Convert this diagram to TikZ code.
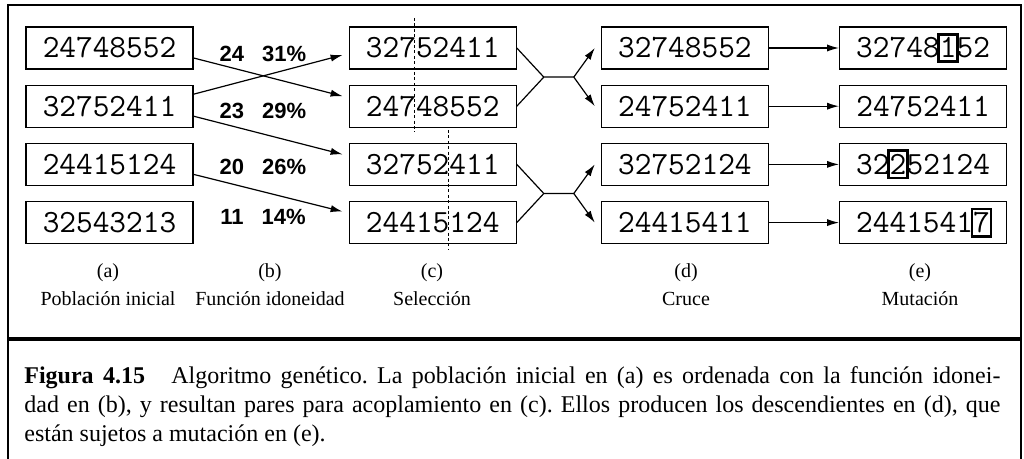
\documentclass[tikz,border=0pt]{standalone}
\usepackage{fontspec}
\setmainfont{Liberation Serif}
\newfontfamily\fitfont{Liberation Sans}
\usepackage{tikz}
\usetikzlibrary{arrows.meta,positioning,calc}
\newcommand\mutdigit[1]{\makebox[0.525em]{\setlength\fboxsep{0pt}\setlength\fboxrule{1.3pt}\fbox{\rule[-1.2pt]{0pt}{12.4pt}#1}}}
\tikzset{
  genbox/.style={draw, line width=0.6pt, minimum width=83.5pt,
    minimum height=21pt, inner sep=0pt, font=\fontsize{16.2}{18}\ttfamily},
  fitlabel/.style={font=\fontsize{11}{13}\fitfont\bfseries},
  stagelabel/.style={align=center, font=\fontsize{10}{14}\selectfont},
  flow/.style={-{Latex[length=6pt,width=3.6pt]}, line width=0.6pt},
  crossline/.style={line width=0.6pt},
  cutline/.style={dash pattern=on 1.5pt off 1.2pt, line width=0.6pt},
  frameline/.style={line width=0.6pt},
  captionrule/.style={line width=2.2pt}
}

\begin{document}
\begin{tikzpicture}[x=0.5pt, y=-0.5pt, node distance=7.5pt and 77.5pt]
\useasboundingbox (0,0) rectangle (1024,459);

% (a) initial population
\node[genbox] (a1) at (109.5,48) {24748552};
\node[genbox, below=of a1] (a2) {32752411};
\node[genbox, below=of a2] (a3) {24415124};
\node[genbox, below=of a3] (a4) {32543213};

% (b) fitness
\node[fitlabel] (f1) at (263,54) {24\hspace{9pt}31\%};
\node[fitlabel] (f2) at (263,111) {23\hspace{9pt}29\%};
\node[fitlabel] (f3) at (263,167) {20\hspace{9pt}26\%};
\node[fitlabel] (f4) at (263,217) {11\hspace{9pt}14\%};

% (c) selection
\node[genbox, right=of a1] (c1) {32752411};
\node[genbox, below=of c1] (c2) {24748552};
\node[genbox, below=of c2] (c3) {32752411};
\node[genbox, below=of c3] (c4) {24415124};

% (d) crossover
\node[genbox, right=42pt of c1] (d1) {32748552};
\node[genbox, below=of d1] (d2) {24752411};
\node[genbox, below=of d2] (d3) {32752124};
\node[genbox, below=of d3] (d4) {24415411};

% (e) mutation
\node[genbox, right=35pt of d1] (e1) {32748\mutdigit{1}52};
\node[genbox, below=of e1] (e2) {24752411};
\node[genbox, below=of e2] (e3) {32\mutdigit{2}52124};
\node[genbox, below=of e3] (e4) {2441541\mutdigit{7}};

\draw[flow] ([yshift=-5pt]a1.east) -- ([xshift=-3pt,yshift=5pt]c2.west);
\draw[flow] ([yshift=6pt]a2.east) -- ([xshift=-3pt,yshift=-3.5pt]c1.west);
\draw[flow] ([yshift=-5pt]a2.east) -- ([xshift=-3pt,yshift=5pt]c3.west);
\draw[flow] ([yshift=-5pt]a3.east) -- ([xshift=-3pt,yshift=5.5pt]c4.west);

% crossover points
\draw[cutline] (414.5,18) -- (414.5,132);
\draw[cutline] (448.5,130) -- (448.5,250);

\coordinate (j1) at ($(c1.east)!0.5!(c2.east)+(27,0)$);
\coordinate (k1) at ($(j1)+(30,0)$);
\coordinate (j2) at ($(c3.east)!0.5!(c4.east)+(27,0)$);
\coordinate (k2) at ($(j2)+(30,0)$);
\draw[crossline] (c1.east) -- (j1) -- (k1);
\draw[crossline] (c2.east) -- (j1);
\draw[crossline] (c3.east) -- (j2) -- (k2);
\draw[crossline] (c4.east) -- (j2);
\draw[flow] (k1) -- ([xshift=-3pt]d1.west);
\draw[flow] (k1) -- ([xshift=-3pt]d2.west);
\draw[flow] (k2) -- ([xshift=-3pt]d3.west);
\draw[flow] (k2) -- ([xshift=-3pt]d4.west);

\draw[flow] (d1) -- (e1);
\draw[flow] (d2) -- (e2);
\draw[flow] (d3) -- (e3);
\draw[flow] (d4) -- (e4);

% stage names
\node[stagelabel] (sa) at (108,285) {(a)\\Población inicial};
\node[stagelabel] (sb) at (270,285) {(b)\\Función idoneidad};
\node[stagelabel] (sc) at (432,285) {(c)\\Selección};
\node[stagelabel] (sd) at (686,285) {(d)\\Cruce};
\node[stagelabel] (se) at (920,285) {(e)\\Mutación};

% frame and caption
\draw[frameline] (8,459) -- (8,5) -- (1021,5) -- (1021,459);
\draw[captionrule] (8,339) -- (1021,339);
\node[anchor=north west, align=left, inner sep=0pt,
      font=\fontsize{12}{14.5}\selectfont\frenchspacing] (cap) at (24,366)
  {\makebox[488pt][s]{\textbf{Figura 4.15}\hspace{1.1em}Algoritmo genético. La población inicial en (a) es ordenada con la función idonei-}\\
   \makebox[488pt][s]{dad en (b), y resultan pares para acoplamiento en (c). Ellos producen los descendientes en (d), que}\\
   están sujetos a mutación en (e).};
\end{tikzpicture}
\end{document}
